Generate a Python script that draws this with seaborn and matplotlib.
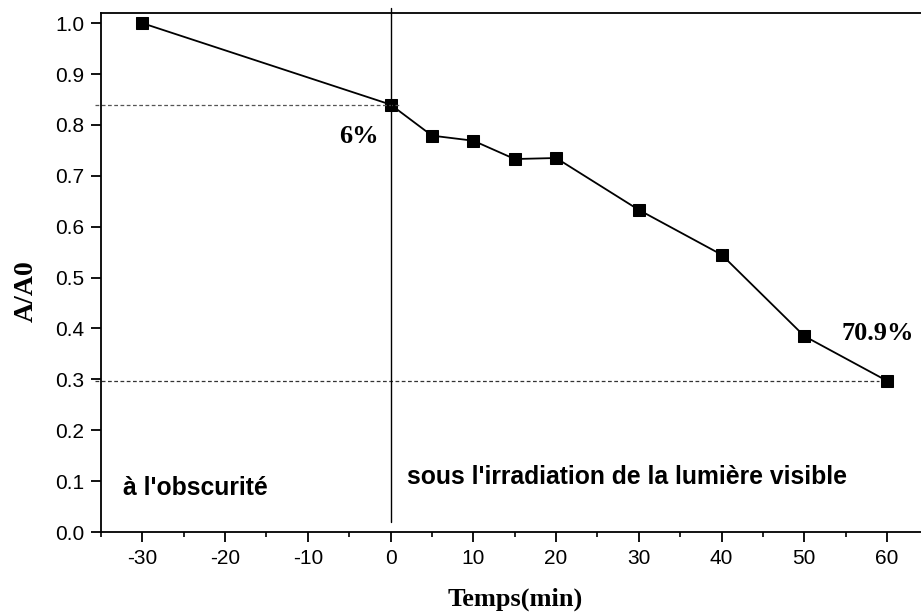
import matplotlib
matplotlib.use("Agg")
import matplotlib.pyplot as plt
import seaborn as sns
import pandas as pd

time_min = [-30, 0, 5, 10, 15, 20, 30, 40, 50, 60]
ratio = [1.0, 0.84, 0.779, 0.769, 0.733, 0.735, 0.633, 0.545, 0.385, 0.297]
x_ticks = [-30, -20, -10, 0, 10, 20, 30, 40, 50, 60]
y_ticks = [0.0, 0.1, 0.2, 0.3, 0.4, 0.5, 0.6, 0.7, 0.8, 0.9, 1.0]

sns.set_theme(style="ticks")
plt.rcParams['font.family'] = ['Liberation Sans', 'DejaVu Sans']
plt.rcParams['axes.unicode_minus'] = False
plt.rcParams['text.color'] = 'black'
plt.rcParams['axes.labelcolor'] = 'black'

df = pd.DataFrame({"t": time_min, "r": ratio})

fig = plt.figure(figsize=(9.21, 6.16), dpi=100)
ax = fig.add_axes([101/921, 1 - 532/616, (921 - 101)/921, (532 - 13)/616])

sns.lineplot(data=df, x="t", y="r", ax=ax, color="black", linewidth=1.3,
             marker="s", markersize=8, markeredgecolor="black",
             markerfacecolor="black")

ax.set_xlim(-35, 64.1)
ax.set_ylim(0, 1.02)
ax.set_xticks(x_ticks)
ax.set_yticks(y_ticks)
ax.set_yticklabels([f"{v:.1f}" for v in y_ticks])
ax.set_xticks([-35, -25, -15, -5, 5, 15, 25, 35, 45, 55], minor=True)
ax.tick_params(axis="both", which="major", direction="out", length=7.5, width=1.3,
               labelsize=15, colors="black", pad=4.5)
ax.tick_params(axis="x", which="minor", direction="out", length=3.8, width=1.2,
               colors="black")
ax.spines["right"].set_visible(False)
for s in ["left", "bottom", "top"]:
    ax.spines[s].set_linewidth(1.3)
    ax.spines[s].set_color("black")

# reference lines
ax.plot([-35.7, 1.0], [ratio[1], ratio[1]], ls=(0, (3, 2)), color="#555555",
        lw=0.9, clip_on=False)
ax.plot([-35.7, 59], [ratio[-1], ratio[-1]], ls=(0, (3, 2)), color="#333333",
        lw=0.9, clip_on=False)
ax.plot([0, 0], [0.02, 1.03], color="black", lw=1.0, clip_on=False)

serif = ['Liberation Serif', 'DejaVu Serif']
ax.text(-1.45, 0.764, "6%", fontfamily=serif, fontweight="bold", fontsize=19,
        ha="right", va="baseline")
ax.text(54.5, 0.378, "70.9%", fontfamily=serif, fontweight="bold", fontsize=19,
        ha="left", va="baseline")
ax.text(-32.3, 0.073, "à l'obscurité", fontweight="bold", fontsize=17.8,
        ha="left", va="baseline")
ax.text(1.93, 0.0945, "sous l'irradiation de la lumière visible", fontweight="bold",
        fontsize=17.8, ha="left", va="baseline")

ax.set_xlabel("Temps(min)", fontfamily=serif, fontweight="bold", fontsize=19)
ax.set_ylabel("A/A0", fontfamily=serif, fontweight="bold", fontsize=20)
ax.xaxis.set_label_coords(0.505, -0.108)
ax.yaxis.set_label_coords(-0.076, 0.464)

fig.savefig("out.png", dpi=100)
